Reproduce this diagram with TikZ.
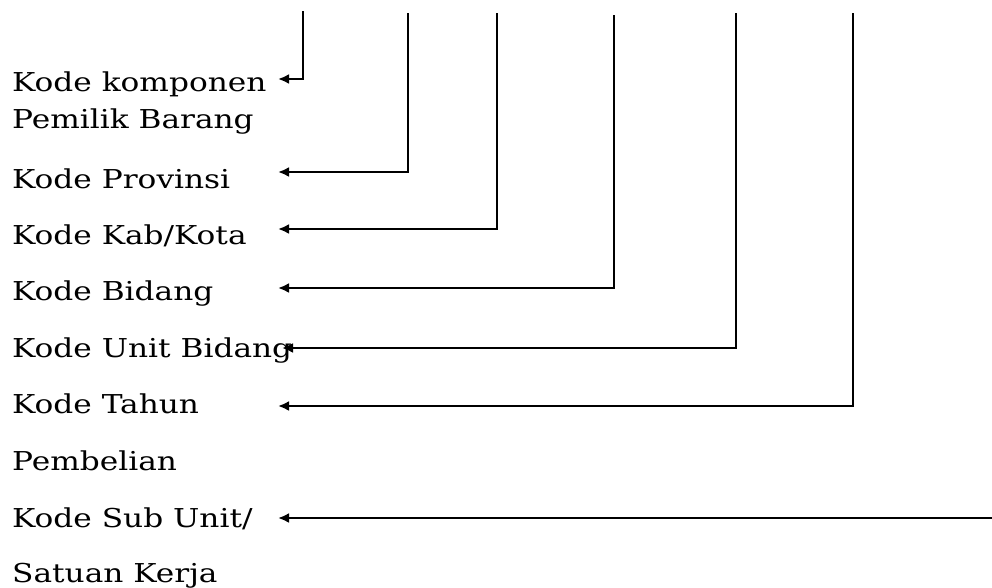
\documentclass[tikz,border=0pt]{standalone}
\usepackage{fontspec}
\setmainfont[FakeStretch=1.2]{DejaVu Serif}
\usetikzlibrary{arrows.meta}
\begin{document}
\begin{tikzpicture}[x=1pt,y=-1pt,
  lbl/.style={anchor=base west, inner sep=0pt, font=\fontsize{26}{30}\selectfont},
  link/.style={line width=2.6pt, -{Latex[length=11pt,width=10pt]}}]
\useasboundingbox (0,0) rectangle (992,587);

% labels, one per line
\node[lbl] (k1a) at (12,91)  {Kode komponen};
\node[lbl] (k1b) at (12,128) {Pemilik Barang};
\node[lbl] (k2)  at (12,188) {Kode Provinsi};
\node[lbl] (k3)  at (12,244) {Kode Kab/Kota};
\node[lbl] (k4)  at (12,300) {Kode Bidang};
\node[lbl] (k5)  at (12,357) {Kode Unit Bidang};
\node[lbl] (k6a) at (12,413) {Kode Tahun};
\node[lbl] (k6b) at (12,470) {Pembelian};
\node[lbl] (k7a) at (12,527) {Kode Sub Unit/};
\node[lbl] (k7b) at (12,582) {Satuan Kerja};

% upper ends of the code digits
\coordinate (s1) at (303,11);
\coordinate (s2) at (408,13);
\coordinate (s3) at (497,13);
\coordinate (s4) at (614,15);
\coordinate (s5) at (736,13);
\coordinate (s6) at (853,13);
\coordinate (s7) at (992,518);

% arrow tips beside the labels
\coordinate (t1) at (278,79);
\coordinate (t2) at (278,172);
\coordinate (t3) at (278,229);
\coordinate (t4) at (278,288);
\coordinate (t5) at (282,348);
\coordinate (t6) at (278,406);
\coordinate (t7) at (278,518);

\draw[link] (s1) |- (t1);
\draw[link] (s2) |- (t2);
\draw[link] (s3) |- (t3);
\draw[link] (s4) |- (t4);
\draw[link] (s5) |- (t5);
\draw[link] (s6) |- (t6);
\draw[link] (s7) -- (t7);
\end{tikzpicture}
\end{document}
